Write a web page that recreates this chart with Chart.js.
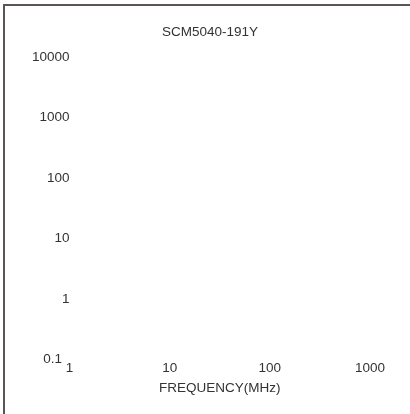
<!DOCTYPE html>
<html>
<head>
<meta charset="utf-8">
<script src="https://cdn.jsdelivr.net/npm/chart.js@4"></script>
<style>
  body { margin: 0; background: #fff; }
  #frame {
    position: absolute; left: 3px; top: 4px; width: 410px; height: 414px;
    border-top: 2px solid #5a5452; border-left: 2px solid #5a5452;
  }
  #chart { position: absolute; left: 0; top: 0; }
</style>
</head>
<body>
<div id="frame"></div>
<canvas id="chart" width="410" height="414"></canvas>
<script>
// Axis ticks (the plot carries no curves)
const xTicks = [1, 10, 100, 1000];
const yTicks = [0.1, 1, 10, 100, 1000, 10000];
const chartTitle = 'SCM5040-191Y';
const xTitle = 'FREQUENCY(MHz)';

const fontFamily = '"Liberation Sans", Arial, sans-serif';
const font = { family: fontFamily, size: 13.5 };
const textColor = '#333';

// title sits a little left of the plot centre, so draw it ourselves
const titlePlugin = {
    id: 'plainTitle',
    afterDraw(chart) {
        const c = chart.ctx;
        c.save();
        c.font = font.size + 'px ' + fontFamily;
        c.fillStyle = textColor;
        c.textAlign = 'center';
        c.textBaseline = 'middle';
        c.fillText(chartTitle, 210, 32);
        c.restore();
    }
};

const config = {
    type: 'scatter',
    data: { datasets: [] },
    options: {
        responsive: false,
        animation: false,
        layout: { padding: { left: 32, right: 40, top: 57, bottom: 18 } },
        plugins: {
            legend: { display: false },
            tooltip: { enabled: false },
            title: { display: false }
        },
        scales: {
            x: {
                type: 'logarithmic',
                min: xTicks[0],
                max: xTicks[xTicks.length - 1],
                afterBuildTicks: s => { s.ticks = xTicks.map(v => ({ value: v })); },
                ticks: {
                    color: textColor, font, padding: 1, maxRotation: 0,
                    callback: v => String(v)
                },
                grid: { display: false, drawTicks: false },
                border: { display: false },
                title: { display: true, text: xTitle, color: textColor, font, padding: { top: 2, bottom: 0 } }
            },
            y: {
                type: 'logarithmic',
                min: yTicks[0],
                max: yTicks[yTicks.length - 1],
                afterBuildTicks: s => { s.ticks = yTicks.map(v => ({ value: v })); },
                ticks: {
                    color: textColor, font, padding: 0,
                    // 0.1 is nudged left so it clears the "1" on the x axis
                    callback: v => v < 1 ? String(v) + '  ' : String(v)
                },
                grid: { display: false, drawTicks: false },
                border: { display: false }
            }
        }
    },
    plugins: [titlePlugin]
};

const ctx = document.getElementById('chart').getContext('2d');
const chart = new Chart(ctx, config);
</script>
</body>
</html>
